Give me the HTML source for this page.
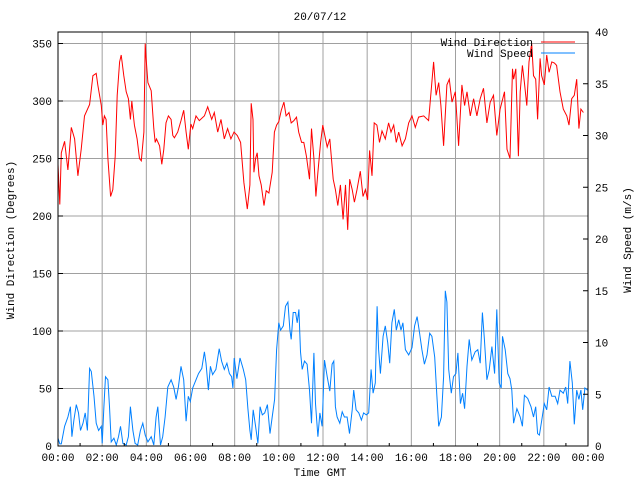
<!DOCTYPE html>
<html><head><meta charset="utf-8"><style>
html,body{margin:0;padding:0;background:#fff;}
svg{display:block;}
text{font-family:"Liberation Mono","DejaVu Sans Mono",monospace;font-size:11px;fill:#000;}
</style></head><body>
<svg id="chart" width="640" height="480" viewBox="0 0 640 480">
<rect x="0" y="0" width="640" height="480" fill="#fff"/>
<g id="grid"></g>
<g id="series"></g>
<rect x="58" y="32" width="530" height="414" fill="none" stroke="#000" stroke-width="1"/>
<g id="axes"></g>
<text x="320" y="20" text-anchor="middle">20/07/12</text>
<text x="320" y="476" text-anchor="middle">Time GMT</text>
<text transform="translate(14,240) rotate(-90)" text-anchor="middle">Wind Direction (Degrees)</text>
<text transform="translate(631,240) rotate(-90)" text-anchor="middle">Wind Speed (m/s)</text>
<g>
<text x="533" y="46" text-anchor="end">Wind Direction</text>
<line x1="541" y1="42" x2="575" y2="42" stroke="#ff0000"/>
<text x="533" y="57" text-anchor="end">Wind Speed</text>
<line x1="541" y1="53" x2="575" y2="53" stroke="#0080ff"/>
</g>
</svg>
<script>
const xTickLabels = ["00:00","02:00","04:00","06:00","08:00","10:00","12:00","14:00","16:00","18:00","20:00","22:00","00:00"];
const leftTickValues = [0,50,100,150,200,250,300,350];
const rightTickValues = [0,5,10,15,20,25,30,35,40];
const dirTimes = [0,0.08,0.15,0.3,0.45,0.6,0.75,0.9,1.05,1.2,1.43,1.58,1.73,1.8,1.96,2.03,2.1,2.18,2.26,2.38,2.48,2.59,2.68,2.79,2.86,2.98,3.09,3.19,3.28,3.34,3.46,3.58,3.69,3.77,3.89,3.95,3.99,4.07,4.22,4.34,4.4,4.46,4.6,4.7,4.79,4.89,5.0,5.12,5.2,5.27,5.42,5.57,5.69,5.8,5.9,6.02,6.1,6.25,6.4,6.63,6.78,6.96,7.08,7.23,7.38,7.53,7.68,7.83,7.97,8.12,8.27,8.42,8.57,8.69,8.75,8.83,8.87,8.95,9.02,9.1,9.2,9.33,9.43,9.55,9.7,9.8,9.9,10.0,10.11,10.23,10.33,10.46,10.56,10.68,10.8,10.9,11.03,11.13,11.25,11.39,11.48,11.59,11.68,11.77,11.89,11.99,12.08,12.19,12.31,12.46,12.56,12.67,12.79,12.91,13.02,13.12,13.21,13.32,13.42,13.54,13.69,13.81,13.92,14.02,14.11,14.22,14.32,14.44,14.56,14.67,14.82,14.97,15.08,15.2,15.32,15.43,15.58,15.73,15.88,16.03,16.18,16.33,16.56,16.78,17.01,17.12,17.24,17.34,17.46,17.61,17.72,17.84,17.99,18.14,18.29,18.41,18.52,18.67,18.82,18.97,19.12,19.27,19.42,19.57,19.72,19.87,20.02,20.1,20.22,20.33,20.47,20.58,20.63,20.73,20.85,20.93,21.03,21.12,21.23,21.33,21.45,21.53,21.63,21.72,21.83,21.9,22.02,22.13,22.24,22.36,22.48,22.58,22.73,22.88,23.04,23.14,23.26,23.38,23.49,23.59,23.68,23.79,23.94,24.0];
const dirValues = [245,210,255,265,240,277,267,235,258,287,297,322,324,314,296,279,287,284,250,217,223,252,305,334,340,322,308,302,284,300,279,267,250,248,273,350,337,316,309,276,264,267,261,245,258,281,287,284,270,268,273,283,292,273,258,280,276,287,283,287,295,284,290,273,284,267,276,267,273,270,264,229,206,227,298,284,238,250,255,235,227,209,222,220,238,273,279,282,292,299,287,290,281,283,286,273,264,264,252,232,276,250,217,238,264,279,270,260,267,232,223,209,227,197,227,188,232,223,212,223,239,217,223,214,257,235,281,279,264,274,267,281,273,279,264,273,261,267,281,287,277,286,287,283,334,305,316,296,261,314,319,299,308,261,314,296,308,287,302,287,302,311,281,299,305,270,293,299,308,258,250,328,319,328,252,308,331,316,296,334,350,322,319,284,337,322,314,340,325,334,333,331,308,293,287,279,302,305,319,276,293,290];
const spdTimes = [0,0.08,0.15,0.3,0.45,0.56,0.63,0.72,0.83,0.93,1.02,1.13,1.23,1.33,1.43,1.51,1.63,1.73,1.84,1.96,2.0,2.08,2.15,2.26,2.33,2.41,2.53,2.64,2.74,2.83,2.94,3.09,3.19,3.28,3.39,3.49,3.61,3.73,3.84,3.95,4.07,4.22,4.34,4.44,4.52,4.64,4.74,4.85,4.97,5.12,5.24,5.35,5.45,5.57,5.69,5.8,5.9,5.99,6.1,6.25,6.36,6.51,6.63,6.7,6.81,6.9,7.0,7.15,7.3,7.41,7.53,7.65,7.76,7.86,7.92,7.98,8.1,8.24,8.39,8.5,8.6,8.69,8.75,8.84,8.95,9.05,9.15,9.25,9.36,9.48,9.6,9.7,9.81,9.9,10.0,10.08,10.2,10.3,10.41,10.5,10.56,10.65,10.76,10.83,10.91,10.98,11.06,11.16,11.28,11.39,11.48,11.59,11.66,11.77,11.86,11.96,12.07,12.19,12.31,12.41,12.49,12.56,12.64,12.76,12.87,12.97,13.09,13.2,13.32,13.39,13.5,13.62,13.74,13.84,13.96,14.07,14.18,14.27,14.37,14.45,14.52,14.6,14.72,14.82,14.93,15.02,15.12,15.23,15.32,15.43,15.53,15.62,15.73,15.88,16.03,16.15,16.26,16.36,16.48,16.59,16.71,16.83,16.93,17.06,17.16,17.24,17.36,17.46,17.54,17.61,17.69,17.81,17.91,18.02,18.11,18.22,18.32,18.41,18.52,18.62,18.74,18.89,19.01,19.12,19.22,19.31,19.42,19.53,19.65,19.77,19.87,19.98,20.07,20.13,20.25,20.37,20.47,20.55,20.63,20.78,20.93,21.03,21.12,21.27,21.42,21.53,21.63,21.72,21.8,21.9,22.02,22.13,22.24,22.36,22.51,22.63,22.73,22.88,22.99,23.08,23.18,23.29,23.38,23.49,23.59,23.68,23.76,23.86,23.98];
const spdValues = [0.75,0.2,0.2,1.9,2.8,3.8,0.9,2.5,4.0,3.2,1.5,2.2,3.2,1.5,7.5,7.2,4.8,2.2,1.5,1.9,0.25,3.8,6.7,6.4,3.8,0.4,0.75,0.1,0.9,1.9,0.25,0.1,0.9,3.8,1.5,0.25,0.1,1.5,2.2,1.05,0.4,0.9,0.1,2.8,3.8,0.1,0.9,2.8,5.7,6.4,5.7,4.5,5.7,7.7,6.4,2.4,4.8,4.3,5.6,6.4,7.0,7.5,9.1,8.0,5.4,7.7,6.9,7.4,9.4,8.2,7.4,8.0,7.0,6.7,5.6,8.5,6.5,8.5,7.4,6.4,3.6,1.5,0.6,3.5,1.9,0.25,3.8,3.0,3.2,4.0,1.2,2.8,4.5,9.3,11.9,11.2,11.6,13.5,13.9,11.2,10.3,12.9,12.9,11.9,13.2,9.1,7.4,8.2,7.9,5.4,2.2,9.0,4.1,0.9,3.2,1.9,8.3,6.7,5.3,7.9,8.2,3.8,2.8,2.2,3.3,2.8,2.8,1.2,3.5,5.4,3.5,3.2,2.5,3.2,3.0,3.2,7.4,5.1,6.1,13.5,9.3,7.0,10.6,11.6,10.0,8.0,11.9,13.2,11.2,12.2,11.2,11.9,9.3,8.8,9.5,11.6,12.5,11.1,9.3,7.9,8.8,10.9,10.6,8.6,4.8,1.9,2.8,6.7,15.0,13.9,7.4,5.1,6.7,7.0,9.0,4.1,5.1,3.6,7.7,10.3,8.3,9.1,9.3,8.0,12.9,10.3,6.4,7.4,9.6,7.0,13.2,6.1,5.6,10.6,9.3,7.0,6.5,5.4,2.2,3.6,2.8,1.9,4.9,4.6,3.8,2.8,3.8,1.2,1.05,2.4,4.1,3.5,5.7,4.8,4.8,4.1,5.4,5.1,5.7,4.1,8.2,6.1,2.1,5.4,4.5,5.4,3.5,5.6,5.4];

const NS = "http://www.w3.org/2000/svg";
const X0 = 58, X1 = 588, Y0 = 446, Y1 = 32;
function xScale(h){ return X0 + h / 24 * (X1 - X0); }
function yDir(d){ return Y0 - d / 360 * (Y0 - Y1); }
function ySpd(s){ return Y0 - s / 40 * (Y0 - Y1); }
function mk(tag, attrs, parent){
  const el = document.createElementNS(NS, tag);
  for (const k in attrs) el.setAttribute(k, attrs[k]);
  parent.appendChild(el);
  return el;
}
const grid = document.getElementById('grid');
const axes = document.getElementById('axes');
const series = document.getElementById('series');

xTickLabels.forEach((lab, i) => {
  const x = xScale(i * 2);
  if (i > 0 && i < xTickLabels.length - 1) {
    const g = mk('line', {x1:x, y1:Y1, x2:x, y2:Y0, stroke:'#a0a0a0', 'stroke-width':1}, grid);
    
    
  }
  const t = mk('text', {x:x, y:461, 'text-anchor':'middle'}, axes);
  t.textContent = lab;
  
  
});
for (let h = 1; h < 24; h += 2) {
  const x = xScale(h);
  const m = mk('line', {x1:x, y1:Y0, x2:x, y2:Y0 - 3, stroke:'#000'}, axes);
  
  
}
leftTickValues.forEach(v => {
  const y = yDir(v);
  if (v > 0) {
    const g = mk('line', {x1:X0, y1:y, x2:X1, y2:y, stroke:'#a0a0a0', 'stroke-width':1}, grid);
    
    
  }
  const tk = mk('line', {x1:X0, y1:y, x2:X0 + 5, y2:y, stroke:'#000'}, axes);
  
  
  const t = mk('text', {x:52, y:y + 4, 'text-anchor':'end'}, axes);
  t.textContent = v;
  
  
});
rightTickValues.forEach(v => {
  const y = ySpd(v);
  const tk = mk('line', {x1:X1 - 5, y1:y, x2:X1, y2:y, stroke:'#000'}, axes);
  
  
  const t = mk('text', {x:595, y:y + 4, 'text-anchor':'start'}, axes);
  t.textContent = v;
  
  
});
function stepPath(times, vals, yf){
  let d = '';
  times.forEach((t, i) => { d += (i ? 'L' : 'M') + xScale(t).toFixed(1) + ' ' + yf(vals[i]).toFixed(1); });
  return d;
}
const dirLine = mk('path', {d:stepPath(dirTimes, dirValues, yDir), fill:'none', stroke:'#ff0000', 'stroke-width':1}, series);


const spdLine = mk('path', {d:stepPath(spdTimes, spdValues, ySpd), fill:'none', stroke:'#0080ff', 'stroke-width':1}, series);


</script>
</body></html>
